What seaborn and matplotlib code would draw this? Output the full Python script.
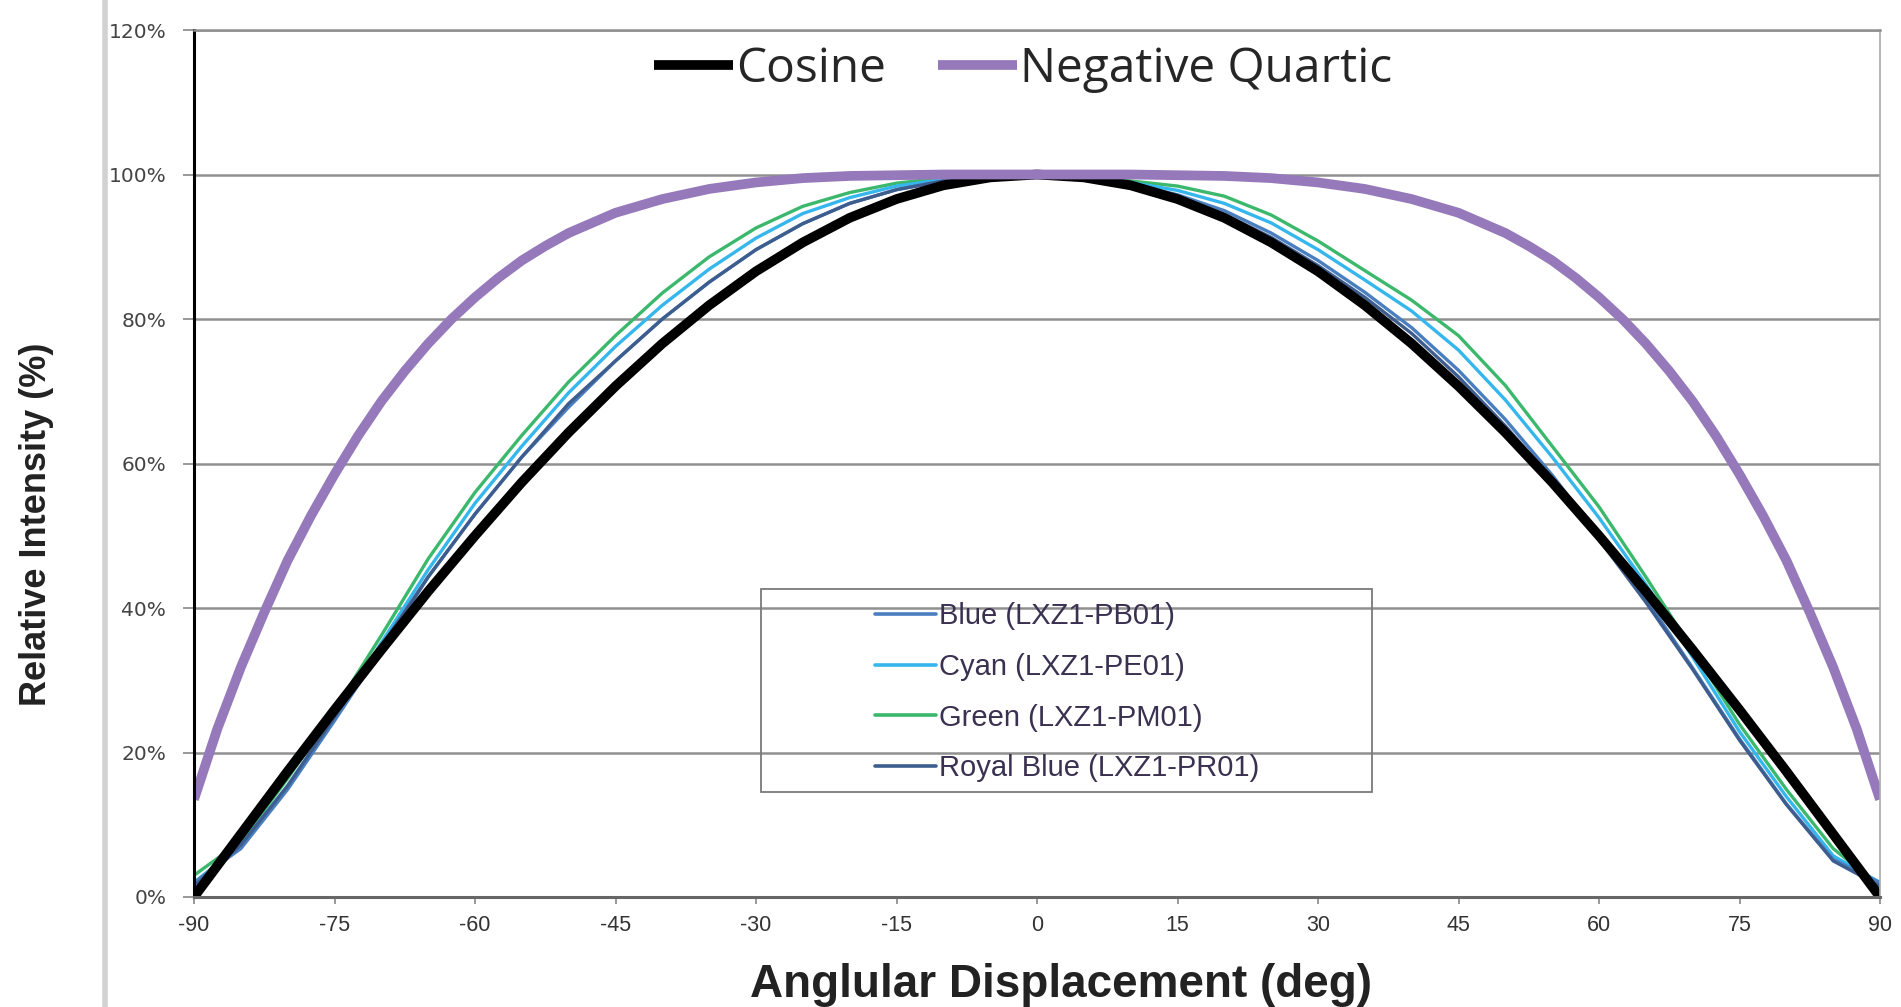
import numpy as np
import pandas as pd
import matplotlib
matplotlib.use('Agg')
import matplotlib.pyplot as plt
import seaborn as sns
from matplotlib.lines import Line2D
from matplotlib.patches import Rectangle
from matplotlib.ticker import PercentFormatter

# angular positions (deg)
angles = list(range(-90, 91, 5))

# reference curves
cosine = [0.0, 0.087, 0.174, 0.259, 0.342, 0.423, 0.5, 0.574, 0.643, 0.707,
          0.766, 0.819, 0.866, 0.906, 0.94, 0.966, 0.985, 0.996, 1.0,
          0.996, 0.985, 0.966, 0.94, 0.906, 0.866, 0.819, 0.766, 0.707,
          0.643, 0.574, 0.5, 0.423, 0.342, 0.259, 0.174, 0.087, 0.0]

# the quartic curve bends hard near the edges, so it is read more densely there
quartic_angles = [-90, -87.5, -85, -82.5, -80, -77.5, -75, -72.5, -70, -67.5,
                  -65, -62.5, -60, -57.5, -55, -52.5, -50, -45, -40, -35, -30,
                  -25, -20, -15, -10, -5, 0, 5, 10, 15, 20, 25, 30, 35, 40, 45,
                  50, 52.5, 55, 57.5, 60, 62.5, 65, 67.5, 70, 72.5, 75, 77.5,
                  80, 82.5, 85, 87.5, 90]
quartic = [0.135, 0.233, 0.318, 0.394, 0.466, 0.528, 0.585, 0.638, 0.686, 0.728,
           0.766, 0.8, 0.83, 0.857, 0.881, 0.901, 0.919, 0.947, 0.966, 0.98,
           0.989, 0.995, 0.998, 0.999, 1.0, 1.0, 1.0, 1.0, 1.0, 0.999, 0.998,
           0.995, 0.989, 0.98, 0.966, 0.947, 0.919, 0.901, 0.881, 0.857, 0.83,
           0.8, 0.766, 0.728, 0.686, 0.638, 0.585, 0.528, 0.466, 0.394, 0.318,
           0.233, 0.135]

# measured LED curves
green = [0.03, 0.077, 0.164, 0.259, 0.362, 0.468, 0.56, 0.639, 0.713, 0.777,
         0.836, 0.886, 0.926, 0.956, 0.975, 0.988, 0.995, 0.999, 1.0,
         0.999, 0.991, 0.984, 0.97, 0.944, 0.908, 0.867, 0.826, 0.777,
         0.708, 0.624, 0.54, 0.443, 0.342, 0.239, 0.149, 0.067, 0.015]
cyan = [0.02, 0.072, 0.154, 0.249, 0.352, 0.453, 0.545, 0.624, 0.698, 0.762,
        0.819, 0.869, 0.912, 0.946, 0.968, 0.984, 0.993, 0.998, 1.0,
        0.998, 0.989, 0.978, 0.96, 0.933, 0.896, 0.854, 0.811, 0.757,
        0.688, 0.609, 0.525, 0.433, 0.332, 0.229, 0.139, 0.057, 0.02]
blue = [0.02, 0.067, 0.149, 0.244, 0.342, 0.443, 0.53, 0.609, 0.678, 0.742,
        0.8, 0.851, 0.896, 0.932, 0.96, 0.979, 0.991, 0.998, 1.0,
        0.997, 0.987, 0.972, 0.95, 0.919, 0.881, 0.837, 0.788, 0.729,
        0.661, 0.584, 0.5, 0.413, 0.317, 0.219, 0.129, 0.052, 0.02]
royal = [0.015, 0.072, 0.154, 0.249, 0.347, 0.443, 0.53, 0.609, 0.683, 0.742,
         0.8, 0.851, 0.896, 0.932, 0.96, 0.979, 0.991, 0.998, 1.0,
         0.996, 0.985, 0.969, 0.945, 0.913, 0.874, 0.83, 0.78, 0.72,
         0.652, 0.578, 0.495, 0.408, 0.315, 0.217, 0.128, 0.05, 0.015]

led_names = ['Blue (LXZ1-PB01)', 'Cyan (LXZ1-PE01)', 'Green (LXZ1-PM01)',
             'Royal Blue (LXZ1-PR01)']
led_colors = ['#4a7fbf', '#35b6ec', '#3cb86c', '#3e5d8f']

df = pd.DataFrame({'angle': angles, 'Cosine': cosine,
                   led_names[0]: blue, led_names[1]: cyan,
                   led_names[2]: green, led_names[3]: royal})
df_q = pd.DataFrame({'angle': quartic_angles, 'Negative Quartic': quartic})

sns.set_style('white')
plt.rcParams['font.family'] = ['Liberation Sans', 'DejaVu Sans']
plt.rcParams['axes.unicode_minus'] = False

fig = plt.figure(figsize=(19.01, 10.07), dpi=100)
ax = fig.add_axes([194/1901, 110/1007, 1686/1901, 867/1007])

for name, col in zip([led_names[2], led_names[1], led_names[0], led_names[3]],
                     [led_colors[2], led_colors[1], led_colors[0], led_colors[3]]):
    sns.lineplot(data=df, x='angle', y=name, color=col, lw=2.4, ax=ax, label=name)
sns.lineplot(data=df, x='angle', y='Cosine', color='black', lw=7, ax=ax,
             label='Cosine', solid_capstyle='butt')
sns.lineplot(data=df_q, x='angle', y='Negative Quartic', color='#9579bb', lw=7,
             ax=ax, label='Negative Quartic', solid_capstyle='butt')

ax.set_xlim(-90, 90)
ax.set_ylim(0, 1.2)
ax.set_xticks(range(-90, 91, 15))
ax.set_yticks(np.arange(0, 1.21, 0.2))
ax.yaxis.set_major_formatter(PercentFormatter(1.0, decimals=0))
ax.grid(axis='y', color='#909090', lw=1.8)
ax.grid(axis='x', visible=False)

ax.tick_params(axis='x', labelsize=15.5, colors='#333333', length=5, width=1.2,
               direction='out', pad=8, color='#888888', bottom=True)
ax.tick_params(axis='y', labelsize=14.5, colors='#444444', length=8, width=1.2,
               direction='out', pad=12, color='#888888', left=True)
for lab in ax.get_yticklabels():
    lab.set_family('DejaVu Sans')

ax.spines['left'].set_color('black')
ax.spines['left'].set_linewidth(2.2)
ax.spines['bottom'].set_color('#666666')
ax.spines['bottom'].set_linewidth(2.2)
ax.spines['top'].set_color('#909090')
ax.spines['top'].set_linewidth(1.8)
ax.spines['right'].set_color('#aaaaaa')
ax.spines['right'].set_linewidth(1.2)

ax.set_xlabel('Anglular Displacement (deg)', fontsize=33, fontweight='bold',
              color='#222222')
ax.xaxis.set_label_coords(0.514, -0.076)
ax.set_ylabel('Relative Intensity (%)', fontsize=26, fontweight='bold',
              color='#222222')
ax.yaxis.set_label_coords(-0.083, 0.43)

handles, labels = ax.get_legend_handles_labels()
hmap = dict(zip(labels, handles))

top_leg = ax.legend([hmap['Cosine'], hmap['Negative Quartic']],
                    ['Cosine', 'Negative Quartic'], loc='center',
                    bbox_to_anchor=(1023/1901, 1 - 69/1007),
                    bbox_transform=fig.transFigure, ncol=2, frameon=False,
                    prop={'family': ['Open Sans', 'DejaVu Sans'], 'size': 34.5},
                    handlelength=1.65, handletextpad=0.05, columnspacing=1.1,
                    borderpad=0)
ax.add_artist(top_leg)

led_handles = [Line2D([], [], color=c, lw=2.6) for c in led_colors]
led_leg = ax.legend(led_handles, led_names, loc='upper left',
                    bbox_to_anchor=(875/1901, 1 - 602/1007),
                    bbox_transform=fig.transFigure, frameon=False,
                    prop={'size': 21}, handlelength=2.1, handletextpad=0.1,
                    labelspacing=0.78, borderpad=0, borderaxespad=0)
for t in led_leg.get_texts():
    t.set_color('#3a3050')

fig.add_artist(Rectangle((761/1901, 1 - 792/1007), 611/1901, 203/1007,
                         transform=fig.transFigure, fill=False,
                         edgecolor='#7a7a7a', lw=1.3))
fig.add_artist(Line2D([105/1901, 105/1901], [0, 1], transform=fig.transFigure,
                      color='#d2d2d2', lw=4))

fig.savefig('out.png', dpi=100)
